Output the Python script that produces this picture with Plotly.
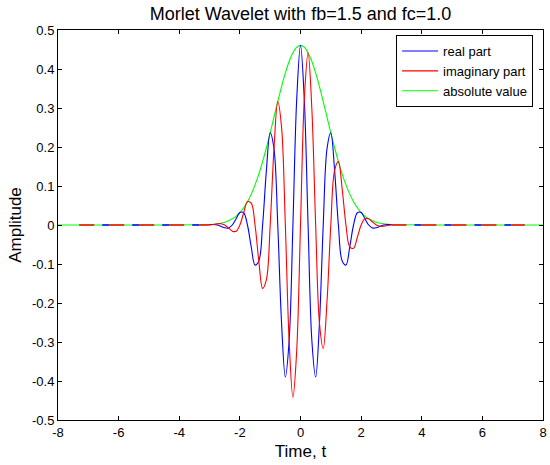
import plotly.graph_objects as go

# Time samples (center region)
t = [-3.0, -2.875, -2.75, -2.625, -2.5, -2.375, -2.25, -2.125,
     -2.0, -1.875, -1.75, -1.625, -1.5, -1.375, -1.25, -1.125,
     -1.0, -0.875, -0.75, -0.625, -0.5, -0.375, -0.25, -0.125,
     0.0, 0.125, 0.25, 0.375, 0.5, 0.625, 0.75, 0.875,
     1.0, 1.125, 1.25, 1.375, 1.5, 1.625, 1.75, 1.875,
     2.0, 2.125, 2.25, 2.375, 2.5, 2.625, 2.75, 2.875, 3.0]

real_part = [0.0011, 0.0013, 0.0, -0.0033, -0.0071, -0.0076, 0.0, 0.0161,
             0.0320, 0.0313, 0.0, -0.0560, -0.1028, -0.0924, 0.0, 0.1401,
             0.2365, 0.1955, 0.0, -0.2511, -0.3899, -0.2966, 0.0, 0.3224,
             0.4607, 0.3224, 0.0, -0.2966, -0.3899, -0.2511, 0.0, 0.1955,
             0.2365, 0.1401, 0.0, -0.0924, -0.1028, -0.0560, 0.0, 0.0313,
             0.0320, 0.0161, 0.0, -0.0076, -0.0071, -0.0033, 0.0, 0.0013, 0.0011]

imag_part = [0.0, 0.0013, 0.0030, 0.0033, 0.0, -0.0076, -0.0158, -0.0161,
             0.0, 0.0313, 0.0598, 0.0560, 0.0, -0.0924, -0.1626, -0.1401,
             0.0, 0.1955, 0.3166, 0.2511, 0.0, -0.2966, -0.4419, -0.3224,
             0.0, 0.3224, 0.4419, 0.2966, 0.0, -0.2511, -0.3166, -0.1955,
             0.0, 0.1401, 0.1626, 0.0924, 0.0, -0.0560, -0.0598, -0.0313,
             0.0, 0.0161, 0.0158, 0.0076, 0.0, -0.0033, -0.0030, -0.0013, 0.0]

abs_t = [-8.0] + t + [8.0]
abs_value = [0.0,
             0.0011, 0.0019, 0.0030, 0.0047, 0.0071, 0.0107, 0.0158, 0.0227,
             0.0320, 0.0442, 0.0598, 0.0792, 0.1028, 0.1306, 0.1626, 0.1981,
             0.2365, 0.2765, 0.3166, 0.3550, 0.3899, 0.4194, 0.4419, 0.4559,
             0.4607, 0.4559, 0.4419, 0.4194, 0.3899, 0.3550, 0.3166, 0.2765,
             0.2365, 0.1981, 0.1626, 0.1306, 0.1028, 0.0792, 0.0598, 0.0442,
             0.0320, 0.0227, 0.0158, 0.0107, 0.0071, 0.0047, 0.0030, 0.0019, 0.0011,
             0.0]

# flat tails of real / imaginary parts
tail_left_t = [-7.3, -3.0]
tail_right_t = [3.0, 7.4]
tail_y = [0.0, 0.0]

x_ticks = [-8, -6, -4, -2, 0, 2, 4, 6, 8]
x_tick_text = ["-8", "-6", "-4", "-2", "0", "2", "4", "6", "8"]
y_ticks = [-0.5, -0.4, -0.3, -0.2, -0.1, 0, 0.1, 0.2, 0.3, 0.4, 0.5]
y_tick_text = ["-0.5", "-0.4", "-0.3", "-0.2", "-0.1", "0", "0.1", "0.2", "0.3", "0.4", "0.5"]

BLUE = "#0000ff"
RED = "#ff0000"
GREEN = "#00ff00"
FONT = "Liberation Sans, Arial, sans-serif"

fig = go.Figure()

fig.add_trace(go.Scatter(x=abs_t, y=abs_value, mode="lines", name="absolute value",
                         line=dict(color=GREEN, width=1.1, shape="spline", smoothing=1.0),
                         legendrank=3))

for tt in (tail_left_t, tail_right_t):
    fig.add_trace(go.Scatter(x=tt, y=tail_y, mode="lines", showlegend=False,
                             line=dict(color=BLUE, width=1.6, dash="0px,23px,7px,0px"),
                             hoverinfo="skip"))
    fig.add_trace(go.Scatter(x=tt, y=tail_y, mode="lines", showlegend=False,
                             line=dict(color=RED, width=1.6, dash="15px,15px"),
                             hoverinfo="skip"))

fig.add_trace(go.Scatter(x=t, y=real_part, mode="lines", name="real part",
                         line=dict(color=BLUE, width=1.1, shape="spline", smoothing=1.0),
                         legendrank=1))
fig.add_trace(go.Scatter(x=t, y=imag_part, mode="lines", name="imaginary part",
                         line=dict(color=RED, width=1.1, shape="spline", smoothing=1.0),
                         legendrank=2))

axis_common = dict(showgrid=False, zeroline=False, showline=True, linecolor="black",
                   linewidth=1, mirror="ticks", ticks="inside", ticklen=4,
                   tickcolor="black", tickfont=dict(family=FONT, size=13, color="black"),
                   ticklabeloverflow="allow")

fig.update_layout(
    width=550, height=465,
    margin=dict(l=58, r=3, t=30, b=45),
    paper_bgcolor="white", plot_bgcolor="white",
    font=dict(family=FONT, color="black"),
    title=dict(text="Morlet Wavelet with fb=1.5 and fc=1.0", x=0.5, xref="paper",
               xanchor="center", y=1 - 14 / 465, yref="container", yanchor="middle",
               font=dict(family=FONT, size=18, color="black")),
    xaxis=dict(range=[-8, 8], tickvals=x_ticks, ticktext=x_tick_text,
               title=dict(text="Time, t", font=dict(family=FONT, size=17, color="black"),
                          standoff=6),
               **axis_common),
    yaxis=dict(range=[-0.5, 0.5], tickvals=y_ticks, ticktext=y_tick_text,
               title=dict(text="Amplitude", font=dict(family=FONT, size=17, color="black"),
                          standoff=6),
               **axis_common),
    legend=dict(x=0.9796, xanchor="right", y=0.987, yanchor="top",
                bgcolor="white", bordercolor="black", borderwidth=1,
                font=dict(family=FONT, size=13, color="black"),
                itemwidth=36, tracegroupgap=0),
    showlegend=True,
)

fig.write_html("out.html")
